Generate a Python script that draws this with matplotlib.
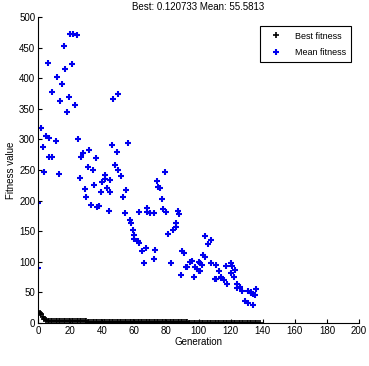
import matplotlib
matplotlib.use("Agg")
import matplotlib.pyplot as plt

# mean fitness (generation, value)
mean_gen = [0, 0, 2, 3, 4, 5, 6, 7, 7, 9, 9, 11, 12, 13, 14, 15, 16, 17, 18, 19,
            20, 21, 22, 23, 24, 25, 26, 27, 28, 29, 30, 31, 32, 33, 34, 35, 36, 37, 38, 39,
            40, 42, 42, 43, 44, 45, 45, 46, 47, 48, 49, 50, 50, 52, 53, 54, 55, 56, 57, 58,
            59, 60, 60, 62, 63, 63, 65, 66, 67, 68, 68, 70, 72, 72, 73, 74, 75, 76, 77, 78,
            79, 80, 81, 83, 84, 86, 86, 87, 88, 89, 90, 91, 92, 93, 95, 96, 97, 98, 99, 100,
            100, 101, 101, 102, 103, 104, 104, 106, 108, 108, 110, 111, 111, 113, 114, 114, 116, 117, 118, 120,
            120, 121, 122, 123, 124, 124, 126, 127, 129, 131, 131, 133, 133, 134, 134, 135, 136]
mean_val = [90, 196, 318, 288, 246, 305, 425, 302, 272, 272, 377, 298, 402, 243, 362, 390, 453, 415, 345, 369,
            472, 423, 472, 356, 471, 300, 237, 271, 278, 219, 206, 255, 283, 193, 250, 226, 270, 190, 191, 214,
            230, 235, 242, 221, 183, 214, 234, 291, 366, 258, 280, 374, 250, 240, 206, 180, 217, 294, 168, 163,
            152, 144, 137, 134, 131, 181, 118, 98, 123, 181, 188, 180, 180, 104, 119, 232, 222, 221, 203, 186,
            246, 181, 145, 98, 152, 163, 157, 183, 178, 78, 118, 114, 92, 92, 100, 101, 75, 92, 88, 100,
            85, 98, 85, 95, 111, 142, 108, 129, 136, 98, 72, 72, 95, 85, 75, 74, 70, 93, 64, 98,
            82, 93, 75, 87, 57, 64, 59, 52, 36, 33, 52, 49, 51, 29, 47, 46, 56]

# best fitness per generation
best_val = [18, 17, 14, 10, 7, 5, 4, 3.5, 3.2, 3.0,
            2.9, 2.8, 2.8, 2.7, 2.7, 2.7, 2.6, 2.6, 2.6, 2.6,
            2.6, 2.5, 2.5, 2.5, 2.5, 2.5, 2.5, 2.5, 2.5, 2.5,
            2.5, 2.4, 2.4, 2.4, 2.4, 2.4, 2.4, 2.4, 2.4, 2.4,
            2.4, 2.4, 2.4, 2.3, 2.3, 2.3, 2.3, 2.3, 2.3, 2.3,
            2.3, 2.3, 2.3, 2.3, 2.3, 2.2, 2.2, 2.2, 2.2, 2.2,
            2.2, 2.2, 2.2, 2.2, 2.2, 2.2, 2.2, 2.2, 2.2, 2.2,
            2.1, 2.1, 2.1, 2.1, 2.1, 2.1, 2.1, 2.1, 2.1, 2.0,
            2.0, 2.0, 2.0, 1.8, 1.6, 1.4, 1.3, 1.2, 1.1, 1.0,
            1.0, 0.9, 0.9, 0.9, 0.8, 0.8, 0.8, 0.8, 0.7, 0.7,
            0.7, 0.7, 0.6, 0.6, 0.6, 0.6, 0.5, 0.5, 0.5, 0.5,
            0.5, 0.4, 0.4, 0.4, 0.4, 0.4, 0.3, 0.3, 0.3, 0.3,
            0.3, 0.3, 0.2, 0.2, 0.2, 0.2, 0.2, 0.2, 0.2, 0.2,
            0.15, 0.15, 0.15, 0.15, 0.12, 0.12, 0.12, 0.12, 0.12]
best_gen = list(range(len(best_val)))

title = "Best: 0.120733 Mean: 55.5813"
xticks = [0, 20, 40, 60, 80, 100, 120, 140, 160, 180, 200]
yticks = [0, 50, 100, 150, 200, 250, 300, 350, 400, 450, 500]

plt.rcParams['font.family'] = ['Liberation Sans', 'DejaVu Sans']
fig = plt.figure(figsize=(3.69, 3.66), dpi=100)
ax = fig.add_axes([0.103, 0.1175, 0.870, 0.836])

ax.plot(best_gen, best_val, '+', color='black', ms=4, mew=1.2, label='Best fitness')
ax.plot(mean_gen, mean_val, '+', color='#0000ee', ms=4, mew=1.5, label='Mean fitness')

ax.set_xlim(0, 200)
ax.set_ylim(0, 500)
ax.set_xticks(xticks)
ax.set_yticks(yticks)
ax.tick_params(direction='in', labelsize=7, length=3, width=0.8, pad=2)
ax.spines['top'].set_visible(False)
ax.spines['right'].set_visible(False)
ax.set_title(title, fontsize=7, pad=5)
ax.set_xlabel('Generation', fontsize=7, labelpad=1)
ax.set_ylabel('Fitness value', fontsize=7, labelpad=2)

leg = ax.legend(loc='upper right', bbox_to_anchor=(0.99, 0.985), fontsize=6.5,
                fancybox=False, framealpha=1, edgecolor='black', handlelength=2.5,
                borderpad=0.6, labelspacing=0.8)
leg.get_frame().set_linewidth(0.8)

fig.savefig('out.png', dpi=100)
